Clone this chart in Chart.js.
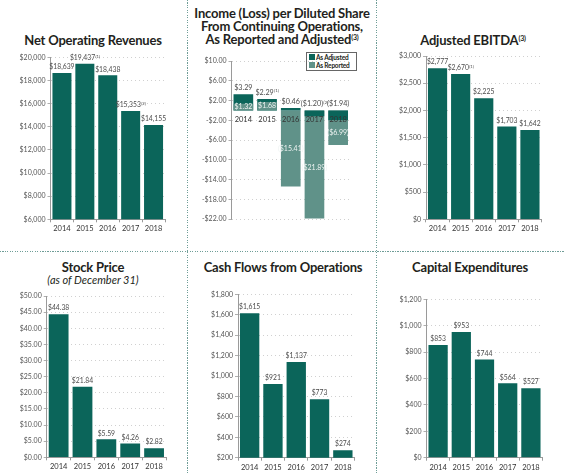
<!DOCTYPE html>
<html><head><meta charset="utf-8">
<script src="https://cdn.jsdelivr.net/npm/chart.js@4/dist/chart.umd.min.js"></script>
<style>
html,body{margin:0;padding:0;background:#fff;}
body{width:565px;height:473px;position:relative;overflow:hidden;font-family:Lato,"Open Sans",sans-serif;}
.t{position:absolute;transform:translate(-50%,-50%);white-space:nowrap;font-weight:700;color:#231f20;font-size:13px;line-height:13px;letter-spacing:-0.2px;}
.t sup{font-size:7px;vertical-align:top;position:relative;top:-2px;}
.st{position:absolute;transform:translate(-50%,-50%);white-space:nowrap;font-style:italic;color:#231f20;font-size:11px;}
.cv{position:absolute;}
.vd{position:absolute;top:0;width:1px;height:473px;background:repeating-linear-gradient(to bottom,#6f9d97 0 1px,transparent 1px 2.5px);}
.hd{position:absolute;left:0;height:1px;width:565px;background:repeating-linear-gradient(to right,#6f9d97 0 1px,transparent 1px 2.5px);}
.lg{position:absolute;left:306px;top:52px;width:49px;height:17px;border:1px solid #666;background:#fff;font-size:6.5px;font-weight:700;color:#231f20;letter-spacing:-0.2px;}
.lg div{position:absolute;left:2px;height:7px;line-height:7px;white-space:nowrap;}
.lg span{display:inline-block;width:6px;height:6px;vertical-align:top;margin-right:1px;}
</style></head>
<body>
<div class="vd" style="left:187px"></div>
<div class="vd" style="left:376px"></div>
<div class="hd" style="top:251px"></div>

<div class="t" style="left:93px;top:40px">Net Operating Revenues</div>
<div class="t" style="left:282px;top:13px">Income (Loss) per Diluted Share</div>
<div class="t" style="left:282px;top:26px">From Continuing Operations,</div>
<div class="t" style="left:282px;top:39px">As Reported and Adjusted<sup>(3)</sup></div>
<div class="t" style="left:473px;top:40px">Adjusted EBITDA<sup>(3)</sup></div>
<div class="t" style="left:93px;top:267px">Stock Price</div>
<div class="st" style="left:93px;top:279px">(as of December 31)</div>
<div class="t" style="left:283px;top:267px">Cash Flows from Operations</div>
<div class="t" style="left:470px;top:267px">Capital Expenditures</div>

<div class="lg">
  <div style="top:1px"><span style="background:#0b655a"></span>As Adjusted</div>
  <div style="top:9px"><span style="background:#609289"></span>As Reported</div>
</div>

<script>
// ---------- data ----------
const years = ['2014', '2015', '2016', '2017', '2018'];

const revenues = [18639, 19437, 18438, 15353, 14155];
const revenueNotes = ['', '(1)', '', '(2)', ''];

const epsAdjusted = [3.29, 2.29, 0.46, -1.20, -1.94];
const epsAdjustedNotes = ['', '(1)', '', '(2)', ''];
const epsReported = [1.32, 1.68, -15.41, -21.89, -6.99];

const ebitda = [2777, 2670, 2225, 1703, 1642];
const ebitdaNotes = ['', '(1)', '', '', ''];

const stockPrice = [44.38, 21.84, 5.59, 4.26, 2.82];
const cashFlows = [1615, 921, 1137, 773, 274];
const capex = [853, 953, 744, 564, 527];

// ---------- styling ----------
const DARK = '#0b655a';
const LIGHT = '#609289';
const FONT = 'Lato, "Open Sans", sans-serif';
Chart.defaults.font.family = FONT;
Chart.defaults.color = '#4d4d4d';

const fmtInt = v => (v < 0 ? '-$' : '$') + Math.abs(v).toLocaleString('en-US');
const fmtDec = v => (v < 0 ? '-$' : '$') + Math.abs(v).toFixed(2);
const fmtParen = v => v < 0 ? '($' + Math.abs(v).toFixed(2) + ')' : '$' + v.toFixed(2);

function drawText(ctx, x, y, text, sup, color, baseline, size) {
  size = size || 6.8;
  const ss = size * 0.62;
  ctx.save();
  ctx.fillStyle = color;
  ctx.textBaseline = baseline;
  ctx.font = size + 'px ' + FONT;
  const w1 = ctx.measureText(text).width;
  ctx.font = ss + 'px ' + FONT;
  const w2 = sup ? ctx.measureText(sup).width : 0;
  const x0 = x - (w1 + w2) / 2;
  ctx.textAlign = 'left';
  ctx.font = size + 'px ' + FONT;
  ctx.fillText(text, x0, y);
  if (sup) {
    ctx.font = ss + 'px ' + FONT;
    ctx.fillText(sup, x0 + w1 + 0.3, y - size * 0.4);
  }
  ctx.restore();
}

const labelPlugin = {
  id: 'valLabels',
  afterDatasetsDraw(chart, args, opts) {
    if (opts && opts.draw) opts.draw(chart, chart.ctx);
  }
};

function makeChart(c) {
  const [L, T, W, H] = c.rect;
  const [pl, pt, pr, pb] = c.plot;
  const cv = document.createElement('canvas');
  cv.className = 'cv';
  cv.width = W; cv.height = H;
  cv.style.left = L + 'px'; cv.style.top = T + 'px';
  cv.style.width = W + 'px'; cv.style.height = H + 'px';
  document.body.appendChild(cv);
  const yW = pl - L, padTop = pt - T, padRight = L + W - pr, xH = T + H - pb;
  const xAtZero = !!c.xAtZero;
  return new Chart(cv, {
    type: 'bar',
    data: { labels: years, datasets: c.datasets },
    plugins: [labelPlugin],
    options: {
      responsive: false,
      animation: false,
      devicePixelRatio: 1,
      layout: { padding: { left: 0, top: padTop, right: padRight, bottom: xAtZero ? xH : 0 } },
      plugins: {
        legend: { display: false },
        tooltip: { enabled: false },
        valLabels: { draw: c.draw }
      },
      scales: {
        x: {
          position: xAtZero ? { y: 0 } : 'bottom',
          afterFit: s => { if (!xAtZero) s.height = xH; },
          grid: { display: !xAtZero, drawOnChartArea: false, tickLength: 3, color: '#9a9a9a', offset: true },
          border: { display: !xAtZero, color: '#9a9a9a', width: 1 },
          ticks: { font: { size: 7.5 }, color: '#333', padding: 2, z: xAtZero ? 1 : 0, maxRotation: 0, autoSkip: false }
        },
        y: {
          min: c.min, max: c.max,
          afterFit: s => { s.width = yW; },
          grid: { color: '#c4c4c4', lineWidth: 0.8, tickLength: 3, tickColor: '#9a9a9a', drawTicks: true },
          border: { display: true, color: '#9a9a9a', width: 1, dash: [1, 3] },
          ticks: { stepSize: c.step, font: { size: 7 }, color: '#555', padding: 2, callback: c.tickFmt, autoSkip: false }
        }
      },
      datasets: { bar: { barPercentage: 0.83, categoryPercentage: 1, borderWidth: 0 } }
    }
  });
}

function simpleLabels(values, notes, fmt) {
  return (chart, ctx) => {
    const meta = chart.getDatasetMeta(0);
    meta.data.forEach((el, i) => {
      drawText(ctx, el.x, el.y - 2.5, fmt(values[i]), notes ? notes[i] : '', '#4d4d4d', 'bottom', 6.8);
    });
  };
}

// Panel 1: Net Operating Revenues
makeChart({
  rect: [0, 45, 186, 200], plot: [50.5, 57.3, 165, 219.3],
  min: 6000, max: 20000, step: 2000, tickFmt: fmtInt,
  datasets: [{ data: revenues, backgroundColor: DARK }],
  draw: simpleLabels(revenues, revenueNotes, fmtInt)
});

// Panel 2: EPS
const sameSign = (a, b) => (a >= 0) === (b >= 0);
const reportedFront = epsReported.map((v, i) => sameSign(v, epsAdjusted[i]) && Math.abs(v) < Math.abs(epsAdjusted[i]) ? v : null);
const reportedBack = epsReported.map((v, i) => reportedFront[i] === null ? v : null);
makeChart({
  rect: [188, 45, 187, 200], plot: [231.5, 61, 350, 219],
  min: -22, max: 10, step: 4, tickFmt: fmtDec, xAtZero: true,
  datasets: [
    { label: 'As Reported', data: reportedFront, backgroundColor: LIGHT, grouped: false, order: 0 },
    { label: 'As Adjusted', data: epsAdjusted, backgroundColor: DARK, grouped: false, order: 1 },
    { label: 'As Reported', data: reportedBack, backgroundColor: LIGHT, grouped: false, order: 2 }
  ],
  draw: (chart, ctx) => {
    const y = chart.scales.y, x = chart.scales.x;
    const z = y.getPixelForValue(0);
    years.forEach((yr, i) => {
      const cx = x.getPixelForValue(i);
      const a = epsAdjusted[i], r = epsReported[i];
      const ay = a >= 0 ? y.getPixelForValue(a) : z;
      drawText(ctx, cx, ay - 3, fmtParen(a), epsAdjustedNotes[i], '#4d4d4d', 'bottom', 7.2);
      const start = (sameSign(a, r) && Math.abs(a) < Math.abs(r)) ? a : 0;
      const my = (y.getPixelForValue(start) + y.getPixelForValue(r)) / 2;
      drawText(ctx, cx, my, fmtParen(r), '', '#eef3f2', 'middle', 7);
    });
  }
});

// Panel 3: Adjusted EBITDA
makeChart({
  rect: [377, 45, 188, 200], plot: [426, 56, 541.5, 219.3],
  min: 0, max: 3000, step: 500, tickFmt: fmtInt,
  datasets: [{ data: ebitda, backgroundColor: DARK }],
  draw: simpleLabels(ebitda, ebitdaNotes, fmtInt)
});

// Panel 4: Stock Price
makeChart({
  rect: [0, 285, 186, 188], plot: [46.7, 296, 166, 457.3],
  min: 0, max: 50, step: 5, tickFmt: fmtDec,
  datasets: [{ data: stockPrice, backgroundColor: DARK }],
  draw: simpleLabels(stockPrice, null, fmtDec)
});

// Panel 5: Cash Flows from Operations
makeChart({
  rect: [188, 285, 187, 188], plot: [238, 294.3, 354.5, 457.7],
  min: 200, max: 1800, step: 200, tickFmt: fmtInt,
  datasets: [{ data: cashFlows, backgroundColor: DARK }],
  draw: simpleLabels(cashFlows, null, fmtInt)
});

// Panel 6: Capital Expenditures
makeChart({
  rect: [377, 285, 188, 188], plot: [426.5, 299.3, 542.5, 457.7],
  min: 0, max: 1200, step: 200, tickFmt: fmtInt,
  datasets: [{ data: capex, backgroundColor: DARK }],
  draw: simpleLabels(capex, null, fmtInt)
});
</script>
</body></html>
